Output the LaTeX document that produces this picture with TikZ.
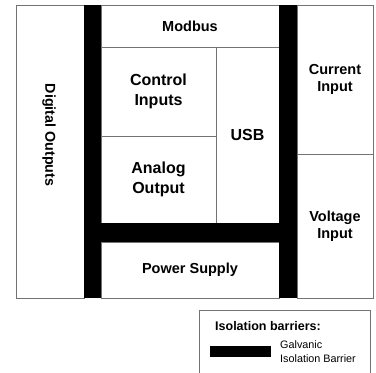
\documentclass[tikz,border=0pt]{standalone}
\usepackage{fontspec}
\setmainfont{Liberation Sans}
\usetikzlibrary{positioning}
\tikzset{
  unit/.style={draw=black!55,line width=1pt,inner sep=0pt,align=center,font=\fontsize{14.5}{17}\selectfont\bfseries},
  bigunit/.style={unit,font=\fontsize{16}{20}\selectfont\bfseries},
  barrier/.style={fill=black},
}
\begin{document}
\begin{tikzpicture}[x=1pt,y=-1pt]
\useasboundingbox (0,0) rectangle (376,373);
% left and right columns
\node[unit,minimum width=68pt,minimum height=293pt] (dout) at (50,151.5) {};
\node[rotate=-90,font=\fontsize{14.3}{17}\selectfont\bfseries] (doutlbl) at (49,135) {Digital Outputs};
\node[unit,minimum width=76pt,minimum height=149pt] (cur) at (335,79.5) {Current\\Input};
\node[unit,minimum width=76pt,minimum height=144pt] (volt) at (335,226) {Voltage\\Input};
% middle blocks
\node[unit,minimum width=178pt,minimum height=42pt] (modbus) at (190,26) {Modbus};
\node[bigunit,minimum width=115pt,minimum height=89pt] (ctrl) at (158.5,91.5) {Control\\Inputs};
\node[bigunit,minimum width=115pt,minimum height=87pt] (aout) at (158.5,179.5) {Analog\\Output};
\node[bigunit,minimum width=63pt,minimum height=176pt] (usb) at (247.5,135) {USB};
\node[unit,minimum width=178pt,minimum height=56pt] (psu) at (190,270) {Power Supply};
% isolation barriers
\fill[barrier] (84,5) rectangle (101,298);
\fill[barrier] (279,5) rectangle (297,298);
\fill[barrier] (101,223) rectangle (279,242);
% legend
\draw[black!55,line width=1pt] (199,310) rectangle (370,390);
\node[anchor=west,inner sep=0pt,font=\fontsize{12.5}{15}\selectfont\bfseries] (legtitle) at (215,326) {Isolation barriers:};
\node[barrier,minimum width=61pt,minimum height=11pt,inner sep=0pt] (legbar) at (240.5,351.5) {};
\node[anchor=west,inner sep=0pt,align=left,font=\fontsize{10.8}{14}\selectfont] (legtext) at (280,352) {Galvanic\\Isolation Barrier};
\end{tikzpicture}
\end{document}
